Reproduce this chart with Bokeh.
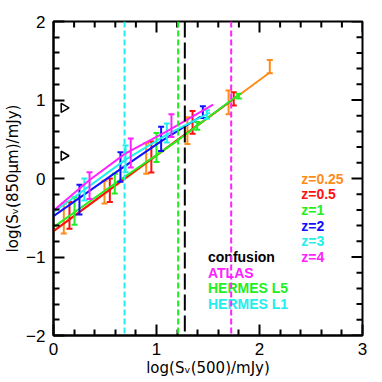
import numpy as np
from bokeh.plotting import figure
from bokeh.models import Span, FixedTicker, ColumnDataSource, Range1d
from bokeh.core.properties import value
from bokeh.embed import file_html
from bokeh.resources import INLINE

# ---- data ----
redshift_labels = ["z=0.25", "z=0.5", "z=1", "z=2", "z=3", "z=4"]
colors = ["#ff8c1a", "#ff1010", "#22ee22", "#1010ff", "#22eeee", "#ff22ff"]

# model curves (log S500, log S850)
curve_x = {
    "z=0.25": [0.0, 0.5, 1.0, 1.5, 2.09],
    "z=0.5": [0.0, 0.6, 1.2, 1.745],
    "z=1": [0.0, 0.6, 1.2, 1.79],
    "z=2": [0.0, 0.65, 1.04, 1.43],
    "z=3": [0.0, 0.7, 1.1, 1.52],
    "z=4": [0.0, 0.35, 0.7, 1.1, 1.55],
}
curve_y = {
    "z=0.25": [-0.67, -0.19, 0.29, 0.77, 1.34],
    "z=0.5": [-0.67, -0.09, 0.49, 1.01],
    "z=1": [-0.62, -0.06, 0.48, 1.06],
    "z=2": [-0.48, 0.12, 0.47, 0.79],
    "z=3": [-0.43, 0.24, 0.56, 0.84],
    "z=4": [-0.41, -0.02, 0.32, 0.60, 0.94],
}

# binned measurements with error bars
bar_x = {
    "z=0.25": [0.10, 0.495, 0.90, 1.30, 1.70, 2.10],
    "z=0.5": [0.155, 0.547, 0.95, 1.35, 1.75],
    "z=1": [0.204, 0.595, 1.00, 1.395, 1.80],
    "z=2": [0.252, 0.65, 1.045, 1.45],
    "z=3": [0.30, 0.70, 1.10, 1.49],
    "z=4": [0.35, 0.75, 1.145],
}
bar_hi = {
    "z=0.25": [-0.32, -0.03, 0.45, 0.78, 1.12, 1.51],
    "z=0.5": [-0.30, 0.00, 0.47, 0.86, 1.10],
    "z=1": [-0.24, 0.06, 0.58, 0.72, 1.08],
    "z=2": [-0.08, 0.335, 0.66, 0.92],
    "z=3": [0.00, 0.42, 0.70, 0.87],
    "z=4": [0.08, 0.51, 0.82],
}
bar_lo = {
    "z=0.25": [-0.70, -0.32, 0.06, 0.44, 0.82, 1.34],
    "z=0.5": [-0.64, -0.30, 0.075, 0.57, 0.93],
    "z=1": [-0.59, -0.19, 0.21, 0.62, 1.02],
    "z=2": [-0.46, -0.04, 0.35, 0.77],
    "z=3": [-0.28, 0.08, 0.46, 0.76],
    "z=4": [-0.26, 0.14, 0.53],
}

# limits (open triangles)
limit_x = [0.10, 0.10]
limit_y = [0.90, 0.29]

# vertical limits
vline_names = ["HERMES L1", "HERMES L5", "confusion", "ATLAS"]
vline_x = [0.69, 1.21, 1.275, 1.725]
vline_colors = ["#22eeee", "#22ee22", "black", "#ff22ff"]
vline_dash = ["6 3", "6 3", "16 5", "6 3"]

x_ticks = [0, 1, 2, 3]
y_ticks = [-2, -1, 0, 1, 2]
x_minor = [0.2, 0.4, 0.6, 0.8, 1.2, 1.4, 1.6, 1.8, 2.2, 2.4, 2.6, 2.8]
y_minor = [-1.8, -1.6, -1.4, -1.2, -0.8, -0.6, -0.4, -0.2,
           0.2, 0.4, 0.6, 0.8, 1.2, 1.4, 1.6, 1.8]

# ---- figure ----
X0, X1, Y0, Y1 = 0, 3, -2, 2
p = figure(width=382, height=382, x_range=Range1d(X0, X1), y_range=Range1d(Y0, Y1),
           output_backend="svg", toolbar_location=None,
           min_border_left=53, min_border_right=20, min_border_top=21, min_border_bottom=47)
p.grid.visible = False
p.outline_line_color = "black"
p.outline_line_width = 2
p.background_fill_color = "white"

font = "DejaVu Sans"
lfont = "Liberation Sans"

def style_axis(ax, ticks, minor):
    ax.ticker = FixedTicker(ticks=ticks, minor_ticks=minor)
    ax.major_tick_in = 11
    ax.major_tick_out = 0
    ax.minor_tick_in = 6
    ax.minor_tick_out = 0
    ax.major_tick_line_width = 2
    ax.minor_tick_line_width = 2
    ax.axis_line_width = 2
    ax.axis_line_color = "black"
    ax.major_tick_line_color = "black"
    ax.minor_tick_line_color = "black"
    ax.major_label_text_font = lfont
    ax.major_label_text_font_size = "17px"
    ax.major_label_text_color = "black"
    ax.axis_label_text_font = font
    ax.axis_label_text_font_style = "normal"
    ax.axis_label_text_font_size = "15px"
    ax.axis_label_text_color = "black"

xa = p.xaxis[0]
style_axis(xa, x_ticks, x_minor)
xa.major_label_standoff = 7
xa.axis_label = "log(S\u1d65(500)/mJy)"
xa.axis_label_standoff = 1

ya = p.yaxis[0]
style_axis(ya, y_ticks, y_minor)
ya.major_label_standoff = 8
ya.major_label_overrides = {-1: "\u22121", -2: "\u22122"}
ya.axis_label = "log(S\u1d65(850\u03bcm)/mJy)"
ya.axis_label_standoff = 1

# ticks on the right and top edges (inward)
p.ray(x=[X1] * len(y_ticks), y=y_ticks, length=11, length_units="screen",
      angle=np.pi, line_color="black", line_width=2)
p.ray(x=[X1] * len(y_minor), y=y_minor, length=6, length_units="screen",
      angle=np.pi, line_color="black", line_width=2)
p.ray(x=x_ticks, y=[Y1] * len(x_ticks), length=11, length_units="screen",
      angle=-np.pi / 2, line_color="black", line_width=2)
p.ray(x=x_minor, y=[Y1] * len(x_minor), length=6, length_units="screen",
      angle=-np.pi / 2, line_color="black", line_width=2)

# vertical lines
for vx, vc, vd in zip(vline_x, vline_colors, vline_dash):
    p.add_layout(Span(location=vx, dimension="height", line_color=vc,
                      line_dash=vd, line_width=2))

# curves and error bars
for lab, c in zip(redshift_labels, colors):
    p.line(curve_x[lab], curve_y[lab], line_color=c, line_width=2)
    bx, lo, hi = bar_x[lab], bar_lo[lab], bar_hi[lab]
    p.segment(x0=bx, y0=lo, x1=bx, y1=hi, line_color=c, line_width=2)
    p.scatter(bx, lo, marker="dash", size=6, line_color=c, line_width=2)
    p.scatter(bx, hi, marker="dash", size=6, line_color=c, line_width=2)

p.scatter(limit_x, limit_y, marker="triangle", angle=-np.pi / 2, size=9,
          fill_color=None, line_color="black", line_width=1.5)

# legend texts
zsrc = ColumnDataSource(dict(x=[2.405] * 6, y=[0.0, -0.2, -0.4, -0.6, -0.8, -1.0],
                             t=redshift_labels, c=colors))
p.text(x="x", y="y", text="t", text_color="c", source=zsrc,
       text_font=value(lfont), text_font_style="bold", text_font_size="14px",
       text_baseline="middle", text_align="left")

leg_names = ["confusion", "ATLAS", "HERMES L5", "HERMES L1"]
leg_colors = ["black", "#ff22ff", "#22ee22", "#22eeee"]
lsrc = ColumnDataSource(dict(x=[1.5] * 4, y=[-1.0, -1.2, -1.4, -1.6],
                             t=leg_names, c=leg_colors))
p.text(x="x", y="y", text="t", text_color="c", source=lsrc,
       text_font=value(lfont), text_font_style="bold", text_font_size="14px",
       text_baseline="middle", text_align="left")

open("out.html", "w").write(file_html(p, INLINE))
